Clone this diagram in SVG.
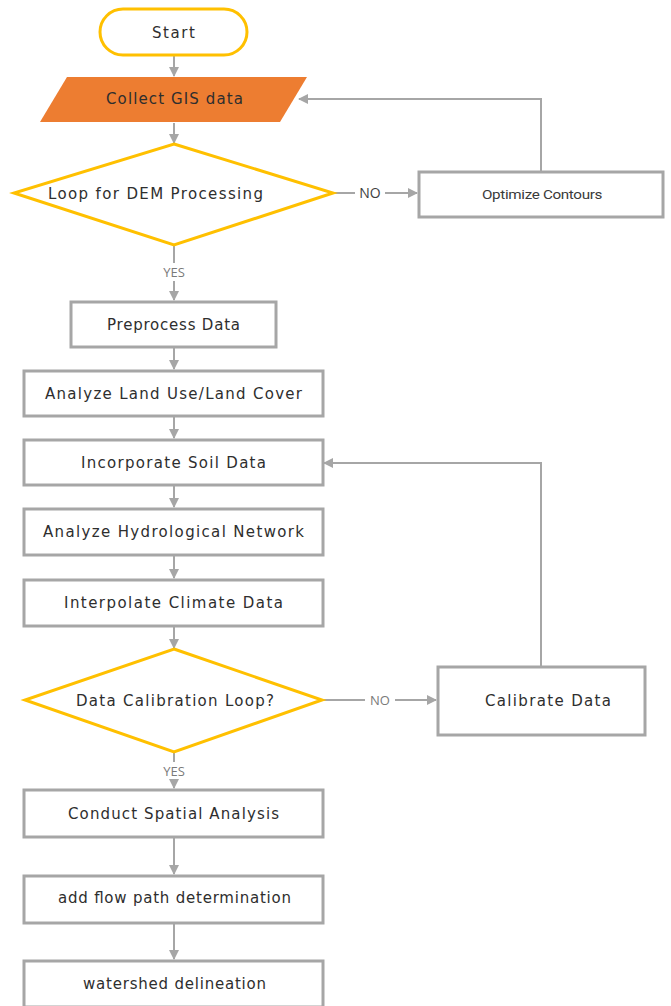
<svg xmlns="http://www.w3.org/2000/svg" width="671" height="1006" viewBox="0 0 671 1006">
<defs>
<marker id="ah" markerWidth="10" markerHeight="10" refX="9" refY="5" orient="auto" markerUnits="userSpaceOnUse">
<path d="M0,0 L10,5 L0,10 Z" fill="#a6a6a6"/>
</marker>
<style>
.box{fill:#ffffff;stroke:#a6a6a6;stroke-width:3}
.dia{fill:#ffffff;stroke:#ffc000;stroke-width:3}
.con{fill:none;stroke:#a6a6a6;stroke-width:2}
.arr{fill:none;stroke:#a6a6a6;stroke-width:2;marker-end:url(#ah)}
.t{font-family:"DejaVu Sans","Open Sans",sans-serif;font-size:15px;fill:#2e2e2e;text-anchor:start}
.lbl{font-family:"Open Sans","Liberation Sans",sans-serif;font-size:13px;fill:#7a7a7a}
</style>
</defs>
<rect width="671" height="1006" fill="#ffffff"/>
<g id="connectors">
<line class="arr" x1="174" y1="56" x2="174" y2="76"/>
<line class="arr" x1="174" y1="123" x2="174" y2="143"/>
<line class="con" x1="334" y1="193" x2="355" y2="193"/>
<line class="arr" x1="385" y1="193" x2="417" y2="193"/>
<polyline class="arr" points="541,171 541,99 299,99"/>
<line class="con" x1="174" y1="246" x2="174" y2="263"/>
<line class="arr" x1="174" y1="281" x2="174" y2="300"/>
<line class="arr" x1="174" y1="348" x2="174" y2="369"/>
<line class="arr" x1="174" y1="417" x2="174" y2="438"/>
<line class="arr" x1="174" y1="486" x2="174" y2="507"/>
<line class="arr" x1="174" y1="556" x2="174" y2="578"/>
<line class="arr" x1="174" y1="627" x2="174" y2="648"/>
<line class="con" x1="323" y1="700" x2="365" y2="700"/>
<line class="arr" x1="395" y1="700" x2="436" y2="700"/>
<polyline class="arr" points="541,666 541,463 324,463"/>
<line class="con" x1="174" y1="753" x2="174" y2="762"/>
<line class="arr" x1="174" y1="780" x2="174" y2="788"/>
<line class="arr" x1="174" y1="838" x2="174" y2="874"/>
<line class="arr" x1="174" y1="924" x2="174" y2="959"/>
<text x="370" y="198" text-anchor="middle" font-family="'Open Sans','Liberation Sans',sans-serif" font-size="14" fill="#404040">NO</text>
<text class="lbl" x="174" y="277" text-anchor="middle">YES</text>
<text class="lbl" x="380" y="705" text-anchor="middle">NO</text>
<text class="lbl" x="174" y="776" text-anchor="middle">YES</text>
</g>
<g id="start">
<rect x="100" y="9" width="147" height="46" rx="23" ry="23" fill="#ffffff" stroke="#ffc000" stroke-width="3"/>
<text class="t" x="152" y="38" textLength="43" lengthAdjust="spacing">Start</text>
</g>
<g id="collect">
<polygon points="67,77 307,77 280,122 40,122" fill="#ed7d31"/>
<text class="t" x="106" y="104" textLength="137" lengthAdjust="spacing">Collect GIS data</text>
</g>
<g id="loop-dem">
<polygon class="dia" points="174,144 333,193 174,245 14,193"/>
<text class="t" x="48" y="199" textLength="215" lengthAdjust="spacing">Loop for DEM Processing</text>
</g>
<g id="optimize">
<rect class="box" x="419" y="172" width="244" height="45"/>
<text x="542" y="199" text-anchor="middle" font-family="'Liberation Sans Narrow','Roboto','Liberation Sans',sans-serif" font-size="13" fill="#3a3a3a" textLength="120" lengthAdjust="spacingAndGlyphs" letter-spacing="-0.3">Optimize Contours</text>
</g>
<g id="preprocess">
<rect class="box" x="71" y="302" width="205" height="45"/>
<text class="t" x="107" y="330" textLength="133" lengthAdjust="spacing">Preprocess Data</text>
</g>
<g id="landuse">
<rect class="box" x="24" y="371" width="299" height="45"/>
<text class="t" x="45" y="399" textLength="257" lengthAdjust="spacing">Analyze Land Use/Land Cover</text>
</g>
<g id="soil">
<rect class="box" x="24" y="440" width="299" height="45"/>
<text class="t" x="81" y="468" textLength="185" lengthAdjust="spacing">Incorporate Soil Data</text>
</g>
<g id="hydro">
<rect class="box" x="24" y="509" width="299" height="46"/>
<text class="t" x="43" y="537" textLength="261" lengthAdjust="spacing">Analyze Hydrological Network</text>
</g>
<g id="climate">
<rect class="box" x="24" y="580" width="299" height="46"/>
<text class="t" x="64" y="608" textLength="219" lengthAdjust="spacing">Interpolate Climate Data</text>
</g>
<g id="calib-loop">
<polygon class="dia" points="174,649 322,700 174,752 25,700"/>
<text class="t" x="76" y="706" textLength="198" lengthAdjust="spacing">Data Calibration Loop?</text>
</g>
<g id="calibrate">
<rect class="box" x="438" y="667" width="207" height="68"/>
<text class="t" x="485" y="706" textLength="126" lengthAdjust="spacing">Calibrate Data</text>
</g>
<g id="spatial">
<rect class="box" x="24" y="790" width="299" height="47"/>
<text class="t" x="68" y="819" textLength="211" lengthAdjust="spacing">Conduct Spatial Analysis</text>
</g>
<g id="flowpath">
<rect class="box" x="24" y="876" width="299" height="47"/>
<text class="t" x="58" y="903" textLength="233" lengthAdjust="spacing">add flow path determination</text>
</g>
<g id="watershed">
<rect class="box" x="24" y="961" width="299" height="46"/>
<text class="t" x="83" y="989" textLength="183" lengthAdjust="spacing">watershed delineation</text>
</g>
</svg>
